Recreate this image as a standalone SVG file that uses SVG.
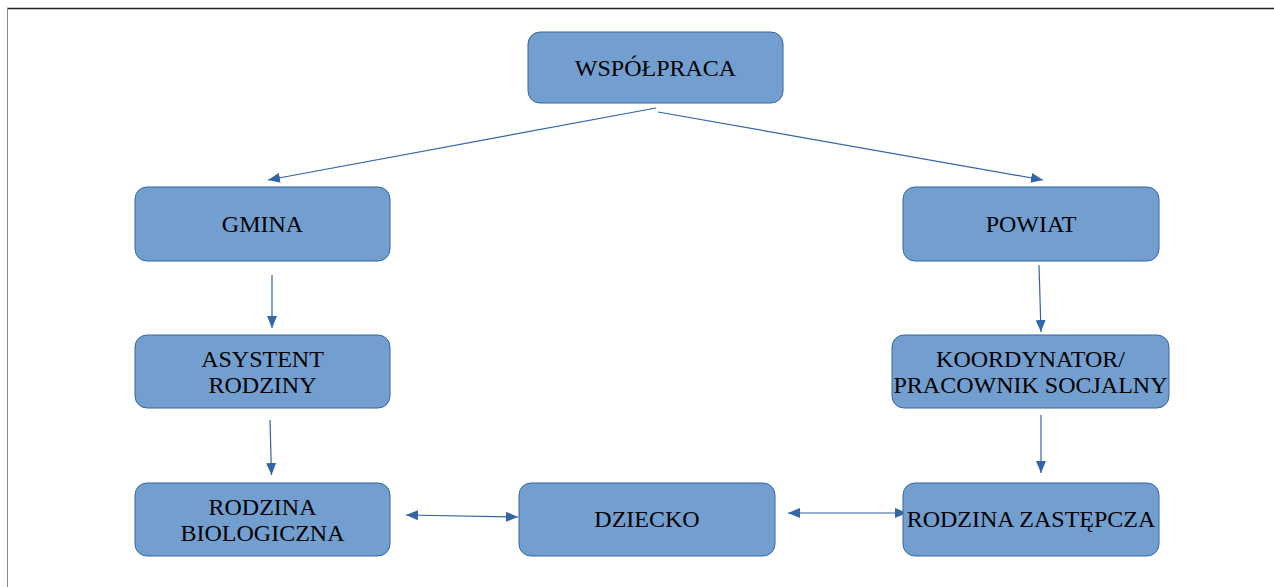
<svg xmlns="http://www.w3.org/2000/svg" width="1274" height="587" viewBox="0 0 1274 587">
<style>
.box{fill:#729fcf;stroke:#3465a4;stroke-width:1}
.t{font-family:"Liberation Serif","Times New Roman",serif;font-size:24px;fill:#000;text-anchor:middle}
.c{stroke:#3465a4;stroke-width:1.2;fill:none;marker-end:url(#ah)}
.b{marker-start:url(#ah)}
</style>
<defs>
<marker id="ah" markerUnits="userSpaceOnUse" markerWidth="12" markerHeight="10" refX="12" refY="5" orient="auto-start-reverse" viewBox="0 0 12 10">
<path d="M0,0 L12,5 L0,10 z" fill="#3465a4"/>
</marker>
</defs>
<rect width="1274" height="587" fill="#fff"/>
<line x1="7" y1="8.5" x2="1274" y2="8.5" stroke="#222" stroke-width="1.5"/>
<line x1="7.5" y1="8" x2="7.5" y2="587" stroke="#888" stroke-width="1"/>
<g id="connectors">
<line class="c" x1="656" y1="108" x2="268" y2="180"/>
<line class="c" x1="658" y1="112" x2="1043" y2="180"/>
<line class="c" x1="272" y1="275" x2="272" y2="328"/>
<line class="c" x1="270" y1="420" x2="271.5" y2="475"/>
<line class="c" x1="1039" y1="265" x2="1041" y2="332"/>
<line class="c" x1="1041" y1="415" x2="1041" y2="473"/>
<line class="c b" x1="406" y1="515" x2="518" y2="517"/>
<line class="c b" x1="788" y1="513" x2="907" y2="513"/>
</g>
<g id="wspolpraca"><rect class="box" x="528" y="32" width="255" height="71" rx="12"/><text class="t" x="655.5" y="75.5">WSPÓŁPRACA</text></g>
<g id="gmina"><rect class="box" x="135" y="187" width="255" height="74" rx="12"/><text class="t" x="262.5" y="232">GMINA</text></g>
<g id="powiat"><rect class="box" x="903" y="187" width="256" height="74" rx="12"/><text class="t" x="1031" y="232">POWIAT</text></g>
<g id="asystent"><rect class="box" x="135" y="335" width="255" height="73" rx="12"/><text class="t" x="262.5" y="367">ASYSTENT</text><text class="t" x="262.5" y="393">RODZINY</text></g>
<g id="koordynator"><rect class="box" x="892" y="335" width="277" height="73" rx="12"/><text class="t" x="1030.5" y="367">KOORDYNATOR/</text><text class="t" x="1030.5" y="393">PRACOWNIK SOCJALNY</text></g>
<g id="rodzina-biologiczna"><rect class="box" x="135" y="483" width="255" height="73" rx="12"/><text class="t" x="262.5" y="515">RODZINA</text><text class="t" x="262.5" y="541">BIOLOGICZNA</text></g>
<g id="dziecko"><rect class="box" x="519" y="483" width="256" height="73" rx="12"/><text class="t" x="647" y="527">DZIECKO</text></g>
<g id="rodzina-zastepcza"><rect class="box" x="903" y="483" width="256" height="73" rx="12"/><text class="t" x="1031" y="527">RODZINA ZASTĘPCZA</text></g>
</svg>
